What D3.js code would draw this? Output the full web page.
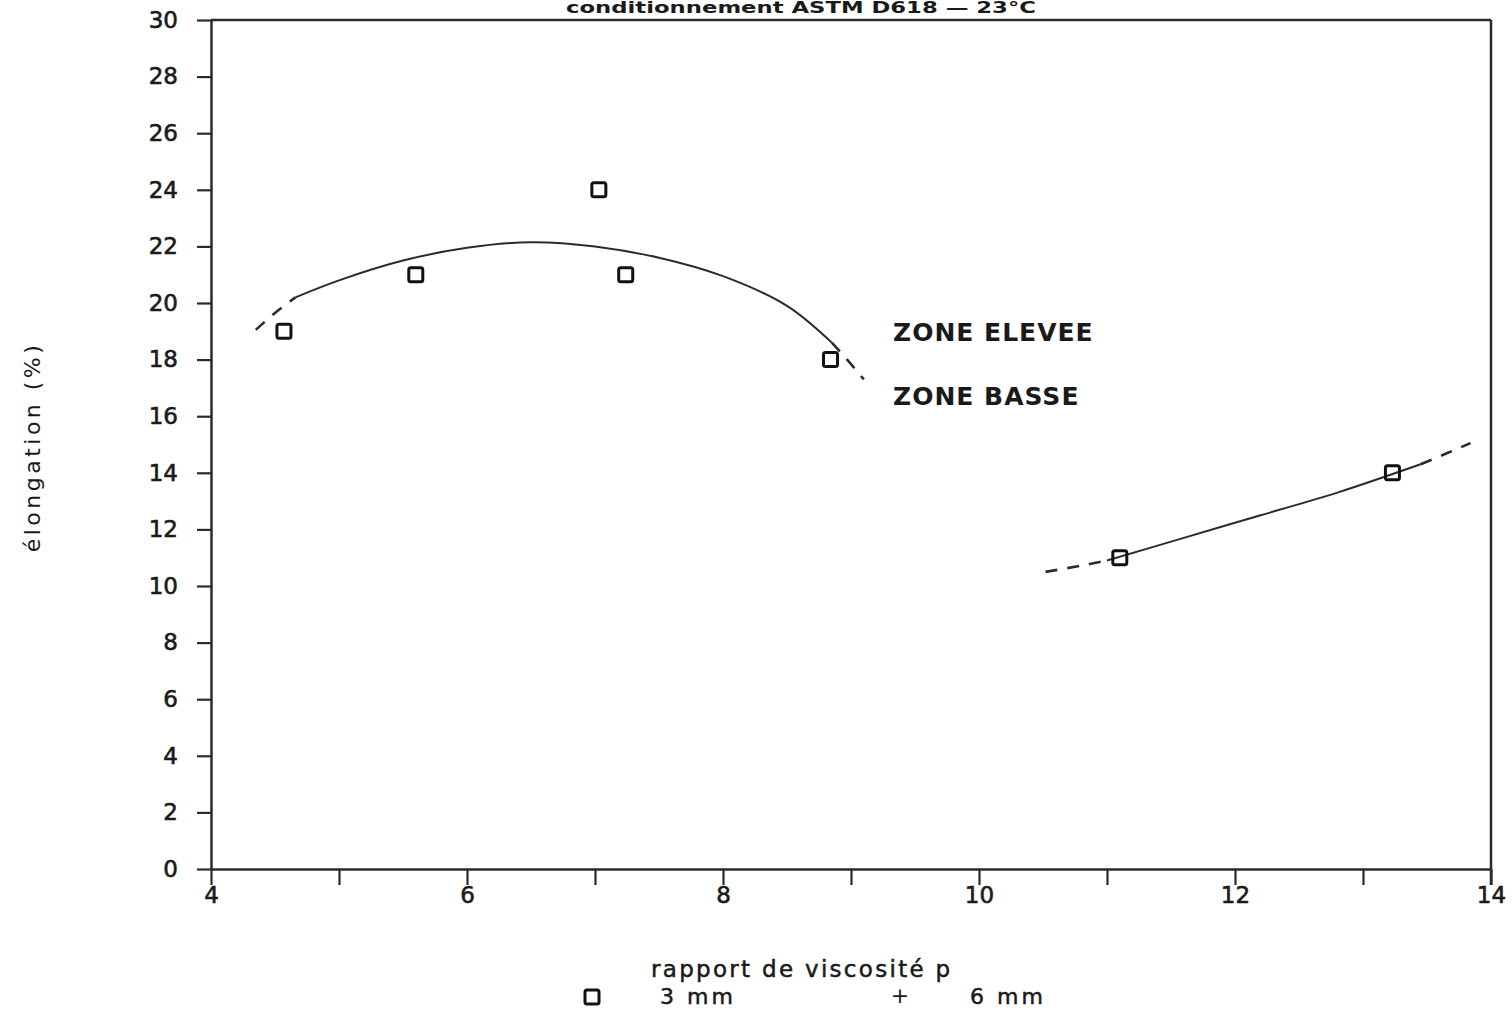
<!DOCTYPE html>
<html><head><meta charset="utf-8">
<script src="https://cdn.jsdelivr.net/npm/d3@7"></script>
<style>
html,body{margin:0;padding:0;background:#fff;}
svg{display:block;}
text{font-family:"DejaVu Sans",sans-serif;fill:#1a1a1a;}
</style></head>
<body>
<svg id="chart" width="1512" height="1011"></svg>
<script>
// ---- data ----
const pointsX = [4.57, 5.6, 7.03, 7.24, 8.84, 11.1, 13.23];
const pointsY = [19, 21, 24, 21, 18, 11, 14];

// upper zone fitted curve (solid part)
const curveHighX = [4.66, 5.0, 5.5, 6.0, 6.5, 7.0, 7.5, 8.0, 8.5, 8.85];
const curveHighY = [20.2, 20.8, 21.5, 21.95, 22.15, 22.0, 21.6, 20.95, 19.9, 18.6];
// dashed extensions of upper curve
const highLeftDashX = [4.35, 4.5, 4.66];
const highLeftDashY = [19.05, 19.65, 20.2];
const highRightDashX = [8.85, 8.97, 9.1];
const highRightDashY = [18.6, 18.0, 17.3];

// lower zone fitted curve (solid part)
const curveLowX = [11.0, 11.6, 12.2, 12.8, 13.45];
const curveLowY = [10.9, 11.7, 12.5, 13.3, 14.3];
const lowLeftDashX = [10.52, 10.8, 11.0];
const lowLeftDashY = [10.5, 10.72, 10.9];
const lowRightDashX = [13.45, 13.65, 13.84];
const lowRightDashY = [14.3, 14.68, 15.05];

const yTicks = [0,2,4,6,8,10,12,14,16,18,20,22,24,26,28,30];
const xTicks = [4,5,6,7,8,9,10,11,12,13,14];
const xLabels = [4,6,8,10,12,14];

const titleText = "conditionnement ASTM D618 — 23°C";
const xTitle = "rapport de viscosité p";
const yTitle = "élongation  (%)";
const zoneHigh = "ZONE ELEVEE";
const zoneLow = "ZONE BASSE";
const legendItems = ["3 mm", "6 mm"];

// ---- drawing ----
const svg = d3.select("#chart");
const ink = "#2b2b2b";
const x = d3.scaleLinear().domain([4,14]).range([211,1491]);
const y = d3.scaleLinear().domain([0,30]).range([869,20]);

function thicken(sel, w){ return sel.attr("stroke","#1a1a1a").attr("stroke-width",w).attr("paint-order","stroke"); }

// frame: top and right lines
svg.append("line").attr("x1",x(4)).attr("x2",x(14)).attr("y1",y(30)).attr("y2",y(30))
  .attr("stroke",ink).attr("stroke-width",2.5);
svg.append("line").attr("x1",x(14)).attr("x2",x(14)).attr("y1",y(30)).attr("y2",y(0)+16)
  .attr("stroke",ink).attr("stroke-width",2.5);

// y axis
const yAxis = d3.axisLeft(y).tickValues(yTicks).tickSize(14).tickSizeOuter(0).tickPadding(19)
  .tickFormat(d3.format("d"));
const gy = svg.append("g").attr("transform",`translate(${x(4)},0)`).call(yAxis);
gy.select(".domain").attr("stroke",ink).attr("stroke-width",2.5);
gy.selectAll(".tick line").attr("stroke",ink).attr("stroke-width",2.2);
thicken(gy.selectAll(".tick text").style("font-size","23px").style("font-family","DejaVu Sans").attr("fill","#1a1a1a"),0.6);

// x axis
const xAxis = d3.axisBottom(x).tickValues(xTicks).tickSize(16).tickSizeOuter(0).tickPadding(2)
  .tickFormat(d => xLabels.includes(d) ? d3.format("d")(d) : "");
const gx = svg.append("g").attr("transform",`translate(0,${y(0)})`).call(xAxis);
gx.select(".domain").attr("stroke",ink).attr("stroke-width",2.5);
gx.selectAll(".tick line").attr("stroke",ink).attr("stroke-width",2.2);
thicken(gx.selectAll(".tick text").style("font-size","23px").style("font-family","DejaVu Sans").attr("fill","#1a1a1a"),0.6);

// curves
const lineGen = d3.line().x(d=>x(d[0])).y(d=>y(d[1])).curve(d3.curveCatmullRom);
function drawCurve(xs, ys, dashed){
  svg.append("path").datum(xs.map((v,i)=>[v,ys[i]]))
    .attr("d",lineGen).attr("fill","none").attr("stroke",ink)
    .attr("stroke-width", dashed ? 2.6 : 2)
    .attr("stroke-dasharray", dashed ? "12 10" : null);
}
drawCurve(curveHighX, curveHighY, false);
drawCurve(highLeftDashX, highLeftDashY, true);
drawCurve(highRightDashX, highRightDashY, true);
drawCurve(curveLowX, curveLowY, false);
drawCurve(lowLeftDashX, lowLeftDashY, true);
drawCurve(lowRightDashX, lowRightDashY, true);

// square markers
const sq = 14;
svg.append("g").selectAll("rect").data(pointsX.map((v,i)=>[v,pointsY[i]])).join("rect")
  .attr("x",d=>x(d[0])-sq/2).attr("y",d=>y(d[1])-sq/2)
  .attr("width",sq).attr("height",sq).attr("rx",2)
  .attr("fill","none").attr("stroke","#111").attr("stroke-width",3);

// zone labels
svg.append("text").attr("x",893).attr("y",341).text(zoneHigh)
  .style("font-size","25px").style("font-weight","bold").style("letter-spacing","1px");
svg.append("text").attr("x",893).attr("y",405).text(zoneLow)
  .style("font-size","25px").style("font-weight","bold").style("letter-spacing","1px");

// title (at the very top edge)
svg.append("text").attr("x",566).attr("y",13).text(titleText)
  .attr("textLength",470).attr("lengthAdjust","spacingAndGlyphs")
  .style("font-size","15px").style("font-weight","bold");

// x title
thicken(svg.append("text").attr("x",651).attr("y",977).text(xTitle)
  .style("font-size","23px").style("letter-spacing","2.3px"),0.5);

// legend
svg.append("rect").attr("x",585).attr("y",990).attr("width",14).attr("height",14).attr("rx",2)
  .attr("fill","none").attr("stroke","#111").attr("stroke-width",3);
thicken(svg.append("text").attr("x",660).attr("y",1004).text(legendItems[0])
  .style("font-size","22px").style("letter-spacing","3px"),0.5);
svg.append("text").attr("x",900).attr("y",1003).attr("text-anchor","middle").text("+")
  .style("font-size","22px");
thicken(svg.append("text").attr("x",970).attr("y",1004).text(legendItems[1])
  .style("font-size","22px").style("letter-spacing","3px"),0.5);

// y title
svg.append("text").attr("transform","translate(40,447) rotate(-90)").attr("text-anchor","middle")
  .text(yTitle).style("font-size","22px").style("letter-spacing","3.5px");
</script>
</body></html>
